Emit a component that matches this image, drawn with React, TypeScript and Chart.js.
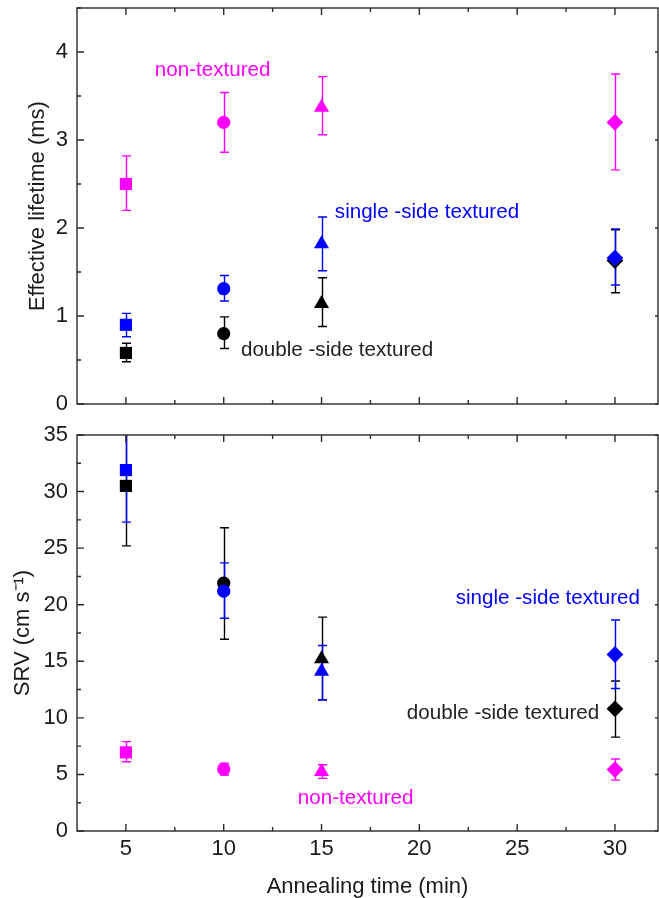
import React, { useEffect, useRef } from "react";
import { Chart, registerables } from "chart.js";

Chart.register(...registerables);

// ---------------- data ----------------
const times = [5, 10, 15, 30];
const xTicks = [5, 10, 15, 20, 25, 30];
const lifeTicks = [0, 1, 2, 3, 4];
const srvTicks = [0, 5, 10, 15, 20, 25, 30, 35];

// Effective lifetime (ms)
const lifeNonTex = [2.5, 3.2, 3.37, 3.2];
const lifeNonTexLo = [2.2, 2.86, 3.06, 2.66];
const lifeNonTexHi = [2.82, 3.54, 3.72, 3.75];
const lifeSingle = [0.9, 1.31, 1.82, 1.66];
const lifeSingleLo = [0.765, 1.17, 1.515, 1.352];
const lifeSingleHi = [1.03, 1.46, 2.125, 1.99];
const lifeDouble = [0.58, 0.8, 1.14, 1.63];
const lifeDoubleLo = [0.48, 0.63, 0.88, 1.265];
const lifeDoubleHi = [0.69, 0.99, 1.435, 1.98];

// SRV (cm s^-1)
const srvNonTex = [6.95, 5.48, 5.25, 5.43];
const srvNonTexLo = [6.12, 4.95, 4.65, 4.5];
const srvNonTexHi = [7.9, 6.0, 5.85, 6.36];
const srvSingle = [31.9, 21.2, 14.1, 15.6];
const srvSingleLo = [27.3, 18.8, 11.6, 12.6];
const srvSingleHi = [36.5, 23.7, 16.4, 18.65];
const srvDouble = [30.5, 21.9, 15.2, 10.8];
const srvDoubleLo = [25.2, 16.95, 11.6, 8.3];
const srvDoubleHi = [35.8, 26.8, 18.9, 13.26];

const seriesLabels = ["single -side textured", "double -side textured", "non-textured"];

// ---------------- styles ----------------
const W = 659;
const H = 898;
const FONT = "'Liberation Sans', Arial, Helvetica, sans-serif";
const BLUE = "#0000ff";
const BLACK = "#000000";
const MAGENTA = "#ff00ff";
const AXIS = "#2a2a2a";
const pointStyles = ["rect", "circle", "triangle", "rectRot"];
const pointRadii = [8.6, 6.6, 8.7, 8.4];

type Series = { label: string; color: string; y: number[]; lo: number[]; hi: number[] };
type Note = { text: string; x: number; y: number; color: string };

function makeDatasets(series: Series[]) {
  return series.map((s) => ({
    label: s.label,
    data: times.map((t, i) => ({ x: t, y: s.y[i] })),
    showLine: false,
    pointStyle: pointStyles as any,
    pointRadius: pointRadii,
    pointBackgroundColor: s.color,
    pointBorderColor: s.color,
    pointBorderWidth: 0,
    clip: false as any,
  }));
}

function framePlugin(id: string, errSeries: Series[], notes: Note[], yMinor: number[], xMinor: number[]) {
  return {
    id,
    beforeDatasetsDraw(chart: any) {
      const { ctx, chartArea: a, scales } = chart;
      const x = scales.x;
      const y = scales.y;
      ctx.save();
      ctx.beginPath();
      ctx.rect(a.left, a.top, a.right - a.left, a.bottom - a.top);
      ctx.clip();
      ctx.lineWidth = 1.4;
      for (const s of errSeries) {
        ctx.strokeStyle = s.color;
        times.forEach((t, i) => {
          const px = Math.round(x.getPixelForValue(t)) + 0.5;
          const pl = y.getPixelForValue(s.lo[i]);
          const ph = y.getPixelForValue(s.hi[i]);
          ctx.beginPath();
          ctx.moveTo(px, pl);
          ctx.lineTo(px, ph);
          ctx.moveTo(px - 4.5, pl);
          ctx.lineTo(px + 4.5, pl);
          ctx.moveTo(px - 4.5, ph);
          ctx.lineTo(px + 4.5, ph);
          ctx.stroke();
        });
      }
      ctx.restore();
    },
    afterDraw(chart: any) {
      const { ctx, chartArea: a, scales } = chart;
      const x = scales.x;
      const y = scales.y;
      ctx.save();
      ctx.strokeStyle = AXIS;
      ctx.lineWidth = 1.4;
      ctx.strokeRect(a.left, a.top, a.right - a.left, a.bottom - a.top);
      ctx.beginPath();
      const major = 7;
      const minor = 4;
      for (const v of xTicks) {
        const px = x.getPixelForValue(v);
        ctx.moveTo(px, a.bottom);
        ctx.lineTo(px, a.bottom - major);
        ctx.moveTo(px, a.top);
        ctx.lineTo(px, a.top + major);
      }
      for (const v of xMinor) {
        const px = x.getPixelForValue(v);
        ctx.moveTo(px, a.bottom);
        ctx.lineTo(px, a.bottom - minor);
        ctx.moveTo(px, a.top);
        ctx.lineTo(px, a.top + minor);
      }
      for (const t of y.ticks) {
        const py = y.getPixelForValue(t.value);
        ctx.moveTo(a.left, py);
        ctx.lineTo(a.left + major, py);
        ctx.moveTo(a.right, py);
        ctx.lineTo(a.right - 3, py);
      }
      for (const v of yMinor) {
        const py = y.getPixelForValue(v);
        ctx.moveTo(a.left, py);
        ctx.lineTo(a.left + minor, py);
      }
      ctx.stroke();
      ctx.font = `20.6px ${FONT}`;
      ctx.textAlign = "left";
      ctx.textBaseline = "middle";
      for (const n of notes) {
        ctx.fillStyle = n.color;
        ctx.fillText(n.text, x.getPixelForValue(n.x), y.getPixelForValue(n.y));
      }
      ctx.restore();
    },
  };
}

const xMinorTicks = [7.5, 12.5, 17.5, 22.5, 27.5];
const lifeMinor = [0.5, 1.5, 2.5, 3.5, 4.5];
const srvMinor = [2.5, 7.5, 12.5, 17.5, 22.5, 27.5, 32.5];

const lifeSeries: Series[] = [
  { label: seriesLabels[0], color: BLUE, y: lifeSingle, lo: lifeSingleLo, hi: lifeSingleHi },
  { label: seriesLabels[1], color: BLACK, y: lifeDouble, lo: lifeDoubleLo, hi: lifeDoubleHi },
  { label: seriesLabels[2], color: MAGENTA, y: lifeNonTex, lo: lifeNonTexLo, hi: lifeNonTexHi },
];
const srvSeries: Series[] = [
  { label: seriesLabels[0], color: BLUE, y: srvSingle, lo: srvSingleLo, hi: srvSingleHi },
  { label: seriesLabels[1], color: BLACK, y: srvDouble, lo: srvDoubleLo, hi: srvDoubleHi },
  { label: seriesLabels[2], color: MAGENTA, y: srvNonTex, lo: srvNonTexLo, hi: srvNonTexHi },
];

const lifeNotes: Note[] = [
  { text: "non-textured", x: 6.48, y: 3.79, color: MAGENTA },
  { text: "single -side textured", x: 15.68, y: 2.18, color: BLUE },
  { text: "double -side textured", x: 10.88, y: 0.61, color: "#222222" },
];
const srvNotes: Note[] = [
  { text: "single -side textured", x: 21.86, y: 20.6, color: BLUE },
  { text: "double -side textured", x: 19.36, y: 10.43, color: "#222222" },
  { text: "non-textured", x: 13.79, y: 2.92, color: MAGENTA },
];

const tickFont = { family: FONT, size: 22 };
const titleFont = { family: FONT, size: 22, lineHeight: 1 };

function errOrder(s: Series[]) {
  return [s[2], s[1], s[0]];
}

function fixX(h: number) {
  return (s: any) => {
    s.height = h;
    s.paddingLeft = 0;
    s.paddingRight = 0;
    s.paddingTop = 0;
    s.paddingBottom = 0;
  };
}
function fixY(w: number) {
  return (s: any) => {
    s.width = w;
    s.paddingLeft = 0;
    s.paddingRight = 0;
    s.paddingTop = 0;
    s.paddingBottom = 0;
  };
}

export default function App() {
  const topRef = useRef<HTMLCanvasElement | null>(null);
  const botRef = useRef<HTMLCanvasElement | null>(null);

  useEffect(() => {
    const top = new Chart(topRef.current as HTMLCanvasElement, {
      type: "scatter",
      data: { datasets: makeDatasets(lifeSeries) as any },
      options: {
        animation: false,
        responsive: false,
        events: [],
        layout: { autoPadding: false, padding: { top: 8, left: 0, right: 1, bottom: H - 404 } },
        plugins: { legend: { display: false }, tooltip: { enabled: false } },
        scales: {
          x: {
            type: "linear",
            min: 2.5,
            max: 32.2,
            grid: { display: false },
            border: { display: false },
            ticks: { display: false },
            afterBuildTicks: (s: any) => {
              s.ticks = xTicks.map((v) => ({ value: v }));
            },
            afterFit: fixX(0),
          },
          y: {
            type: "linear",
            min: 0,
            max: 4.5,
            grid: { display: false, drawTicks: false },
            border: { display: false },
            ticks: { font: tickFont, color: "#1a1a1a", padding: 9, callback: (v: any) => String(v) },
            afterBuildTicks: (s: any) => {
              s.ticks = lifeTicks.map((v) => ({ value: v }));
            },
            afterFit: fixY(77),
            title: {
              display: true,
              text: "Effective lifetime (ms)",
              font: titleFont,
              color: "#1a1a1a",
              padding: { top: 27, bottom: 0 },
            },
          },
        },
      },
      plugins: [framePlugin("frameTop", errOrder(lifeSeries), lifeNotes, lifeMinor, xMinorTicks)],
    });

    const bot = new Chart(botRef.current as HTMLCanvasElement, {
      type: "scatter",
      data: { datasets: makeDatasets(srvSeries) as any },
      options: {
        animation: false,
        responsive: false,
        events: [],
        layout: { autoPadding: false, padding: { top: 435, left: 0, right: 1, bottom: 0 } },
        plugins: { legend: { display: false }, tooltip: { enabled: false } },
        scales: {
          x: {
            type: "linear",
            min: 2.5,
            max: 32.2,
            grid: { display: false, drawTicks: false },
            border: { display: false },
            ticks: { font: tickFont, color: "#1a1a1a", padding: 5, maxRotation: 0, callback: (v: any) => String(v) },
            afterBuildTicks: (s: any) => {
              s.ticks = xTicks.map((v) => ({ value: v }));
            },
            afterFit: fixX(H - 831),
            title: {
              display: true,
              text: "Annealing time (min)",
              font: titleFont,
              color: "#1a1a1a",
              padding: { top: 0, bottom: 0 },
            },
          },
          y: {
            type: "linear",
            min: 0,
            max: 35,
            grid: { display: false, drawTicks: false },
            border: { display: false },
            ticks: { font: tickFont, color: "#1a1a1a", padding: 9, callback: (v: any) => String(v) },
            afterBuildTicks: (s: any) => {
              s.ticks = srvTicks.map((v) => ({ value: v }));
            },
            afterFit: fixY(77),
            title: {
              display: true,
              text: "SRV (cm s\u207B\u00B9)",
              font: titleFont,
              color: "#1a1a1a",
              padding: { top: 12, bottom: 0 },
            },
          },
        },
      },
      plugins: [framePlugin("frameBot", errOrder(srvSeries), srvNotes, srvMinor, xMinorTicks)],
    });

    return () => {
      top.destroy();
      bot.destroy();
    };
  }, []);

  const canvasStyle: React.CSSProperties = {
    position: "absolute",
    left: 0,
    top: 0,
    width: W,
    height: H,
  };

  return (
    <div style={{ position: "absolute", left: 0, top: 0, width: W, height: H, background: "#ffffff" }}>
      <canvas ref={topRef} width={W} height={H} style={canvasStyle} />
      <canvas ref={botRef} width={W} height={H} style={canvasStyle} />
    </div>
  );
}
